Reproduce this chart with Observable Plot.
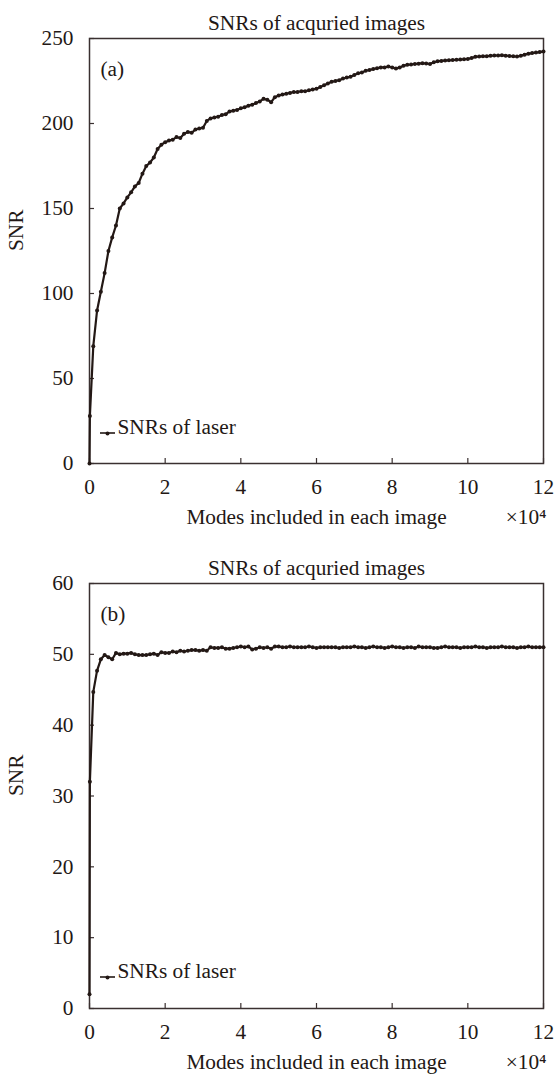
<!DOCTYPE html>
<html>
<head>
<meta charset="utf-8">
<script src="https://cdn.jsdelivr.net/npm/d3@7"></script>
<script src="https://cdn.jsdelivr.net/npm/@observablehq/plot@0.6"></script>
<style>
  html, body { margin: 0; padding: 0; background: #fff; }
  svg { display: block; }
</style>
</head>
<body>
<div id="chart"></div>
<script>
// Modes included in each image (×10^4)
const modes = [0, 0.01, 0.1, 0.2, 0.3, 0.4, 0.5, 0.6, 0.7, 0.8, 0.9,
  1.0, 1.1, 1.2, 1.3, 1.4, 1.5, 1.6, 1.7, 1.8, 1.9,
  2.0, 2.1, 2.2, 2.3, 2.4, 2.5, 2.6, 2.7, 2.8, 2.9,
  3.0, 3.1, 3.2, 3.3, 3.4, 3.5, 3.6, 3.7, 3.8, 3.9,
  4.0, 4.1, 4.2, 4.3, 4.4, 4.5, 4.6, 4.7, 4.8, 4.9,
  5.0, 5.1, 5.2, 5.3, 5.4, 5.5, 5.6, 5.7, 5.8, 5.9,
  6.0, 6.1, 6.2, 6.3, 6.4, 6.5, 6.6, 6.7, 6.8, 6.9,
  7.0, 7.1, 7.2, 7.3, 7.4, 7.5, 7.6, 7.7, 7.8, 7.9,
  8.0, 8.1, 8.2, 8.3, 8.4, 8.5, 8.6, 8.7, 8.8, 8.9,
  9.0, 9.1, 9.2, 9.3, 9.4, 9.5, 9.6, 9.7, 9.8, 9.9,
  10.0, 10.1, 10.2, 10.3, 10.4, 10.5, 10.6, 10.7, 10.8, 10.9,
  11.0, 11.1, 11.2, 11.3, 11.4, 11.5, 11.6, 11.7, 11.8, 11.9, 12.0];

// Panel (a) SNR values
const snrA = [0, 28, 69, 90, 101, 112, 125, 133, 140, 150, 153,
  156.5, 159.5, 163, 165, 170.5, 175, 177, 180, 185, 187.5,
  189, 190, 190.5, 192, 191.5, 194, 195, 194.5, 196.5, 197,
  197.5, 201.5, 203, 203.5, 204, 205, 205.5, 207, 207.5, 208,
  209, 209.5, 210.5, 211, 212, 213, 214.5, 214, 212.5, 215.5,
  216.5, 217, 217.5, 218, 218.5, 218.5, 219, 219, 219.5, 220,
  220.5, 221.5, 222.5, 223.5, 224.5, 225, 225.5, 226.5, 227, 227.5,
  228.5, 229.5, 230, 231, 231.5, 232, 232.5, 233, 233, 233.5,
  233, 232.3, 233, 234, 234.5, 234.7, 235, 235.2, 235.5, 235.3,
  235, 236, 236.6, 236.8, 237, 237.2, 237.3, 237.5, 237.6, 237.8,
  238, 238.5, 239.2, 239.4, 239.5, 239.6, 239.8, 240, 240, 240.1,
  239.9, 239.7, 239.5, 239.4, 239.8, 240.5, 241, 241.4, 241.7, 242, 242.4];

// Panel (b) SNR values
const snrB = [2, 32, 44.7, 47.7, 49.3, 49.9, 49.6, 49.3, 50.2, 50.0, 50.1,
  50.1, 50.2, 50.0, 49.9, 49.9, 49.9, 50.0, 50.1, 49.9, 50.3,
  50.2, 50.2, 50.4, 50.3, 50.5, 50.4, 50.5, 50.6, 50.6, 50.5,
  50.6, 50.5, 51.0, 50.9, 50.9, 51.0, 50.8, 50.8, 50.9, 51.0,
  51.1, 51.0, 51.1, 50.7, 50.8, 51.0, 50.9, 51.0, 50.8, 51.1,
  51.1, 51.0, 51.0, 51.1, 51.0, 51.0, 51.0, 51.0, 51.1, 51.0,
  50.9, 51.0, 51.0, 51.0, 51.0, 51.0, 50.9, 51.0, 51.0, 51.0,
  51.1, 51.0, 51.0, 50.9, 51.0, 51.1, 51.0, 51.0, 50.9, 51.0,
  51.1, 51.0, 51.0, 50.9, 51.0, 51.0, 50.9, 51.1, 51.0, 51.0,
  51.0, 50.9, 50.9, 51.0, 51.1, 51.0, 51.0, 51.0, 50.9, 51.0,
  51.0, 51.0, 51.1, 51.0, 51.0, 50.9, 51.0, 51.0, 51.0, 51.1,
  51.0, 51.0, 51.0, 50.9, 51.0, 51.0, 51.1, 51.0, 51.0, 51.0, 51.0];

const xTicks = [0, 2, 4, 6, 8, 10, 12];
const yTicksA = [0, 50, 100, 150, 200, 250];
const yTicksB = [0, 10, 20, 30, 40, 50, 60];

const title = "SNRs of acquried images";
const xLabel = "Modes included in each image";
const xUnit = "×10⁴";
const yLabel = "SNR";
const seriesName = "SNRs of laser";

const INK = "#231815";
const FRAME = "#3a3030";
const FONT = "'Liberation Serif', 'Times New Roman', serif";

function panel({values, yTicks, tag, marginTop, marginBottom, height, legendDy}) {
  const data = modes.map((m, i) => ({x: m, y: values[i]}));
  const plot = Plot.plot({
    width: 555,
    height,
    marginTop,
    marginBottom,
    marginLeft: 89,
    marginRight: 12,
    style: {fontFamily: FONT, fontSize: "21.3px", color: INK, background: "#fff", overflow: "visible"},
    x: {domain: [0, 12]},
    y: {domain: [yTicks[0], yTicks[yTicks.length - 1]]},
    marks: [
      Plot.axisX({ticks: xTicks, tickSize: -5, tickFormat: () => "", label: null, stroke: FRAME, strokeWidth: 1.2}),
      Plot.axisX({ticks: xTicks, tickSize: 0, tickPadding: 15, label: null, fill: INK}),
      Plot.axisY({ticks: yTicks, tickSize: -5, tickFormat: () => "", label: null, stroke: FRAME, strokeWidth: 1.2}),
      Plot.axisY({ticks: yTicks, tickSize: 0, tickPadding: 16, label: null, fill: INK}),
      Plot.frame({stroke: FRAME, strokeWidth: 1.5}),
      Plot.line(data, {x: "x", y: "y", stroke: INK, strokeWidth: 2.2}),
      Plot.dot(data, {x: "x", y: "y", fill: INK, r: 2}),
      Plot.text([title], {frameAnchor: "top", dy: -24, fill: INK}),
      Plot.text([tag], {frameAnchor: "top-left", dx: 11, dy: 22, textAnchor: "start", fill: INK}),
      Plot.text([xLabel], {frameAnchor: "bottom", dy: 60, fill: INK}),
      Plot.text([xUnit], {frameAnchor: "bottom-right", dx: 3, dy: 60, textAnchor: "end", fill: INK}),
      Plot.text([yLabel], {frameAnchor: "left", dx: -73, rotate: -90, fill: INK}),
      Plot.text([seriesName], {frameAnchor: "bottom-left", dx: 28, dy: legendDy, textAnchor: "start", fill: INK}),
      Plot.dot([seriesName], {frameAnchor: "bottom-left", dx: 18, dy: legendDy, r: 2, fill: INK})
    ]
  });
  // legend swatch line
  const y = height - marginBottom + legendDy;
  d3.select(plot).append("line")
    .attr("x1", 89 + 11).attr("x2", 89 + 26)
    .attr("y1", y).attr("y2", y)
    .attr("stroke", INK).attr("stroke-width", 1.6);
  return plot;
}

const root = document.getElementById("chart");
root.appendChild(panel({values: snrA, yTicks: yTicksA, tag: "(a)", marginTop: 38, marginBottom: 74, height: 537, legendDy: -30}));
root.appendChild(panel({values: snrB, yTicks: yTicksB, tag: "(b)", marginTop: 46, marginBottom: 67, height: 538, legendDy: -31}));
</script>
</body>
</html>
